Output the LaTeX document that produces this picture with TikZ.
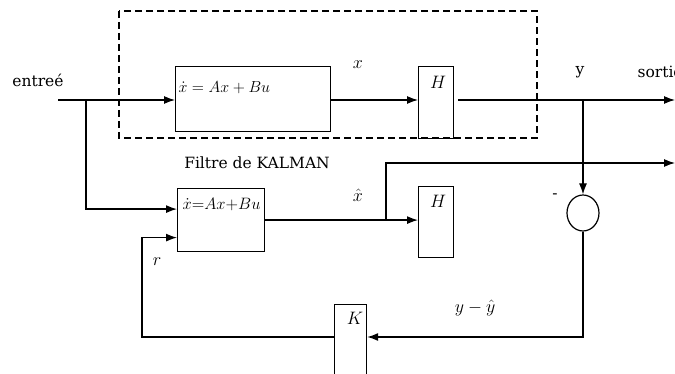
\documentclass[tikz,border=0pt]{standalone}
\usepackage{fix-cm}
\usepackage{fontspec}
\setmainfont{DejaVu Serif}
\usetikzlibrary{arrows.meta,shapes.geometric}

\begin{document}
\begin{tikzpicture}[x=1pt,y=-1pt,line width=1.2pt,
	blk/.style={draw,anchor=north west,inner sep=0pt},
	txt/.style={font=\fontsize{15.5}{18}\selectfont,inner sep=0pt},
	sym/.style={font=\fontsize{18}{20}\selectfont,inner sep=0pt},
	arr/.style={-{Latex[length=11pt,width=8pt]}}]
	\useasboundingbox (0,0) rectangle (675,374);
	\draw[dash pattern=on 7pt off 4pt] (119,11) rectangle (537,138);
	\node[blk,minimum width=155pt,minimum height=65pt] (sys) at (175,66) {};
	\node[blk,minimum width=35pt,minimum height=72pt] (h1) at (418,66) {};
	\node[blk,minimum width=87pt,minimum height=63pt] (est) at (177,188) {};
	\node[blk,minimum width=35pt,minimum height=71pt] (h2) at (418,186) {};
	\node[blk,minimum width=32pt,minimum height=80pt] (k) at (334,304) {};
	\node[draw,ellipse,minimum width=32pt,minimum height=36pt,inner sep=0pt] (sum) at (583,213) {};
	\node[txt,anchor=west,font=\fontsize{16}{18}\selectfont] (eq1) at (178,88) {$\dot{x} = Ax + Bu$};
	\node[txt,anchor=west,font=\fontsize{16.5}{18}\selectfont] (eq2) at (182,204) {$\dot{x}{=}Ax{+}Bu$};
	\node[txt] (lin) at (38,80) {entreé};
	\node[sym] (lx) at (358,65) {$x$};
	\node[sym] (lh1) at (438,82) {$H$};
	\node[txt] (ly) at (580,72) {y};
	\node[txt,anchor=west] (lout) at (637,72) {sortie};
	\node[txt] (lkal) at (257,163) {Filtre de KALMAN};
	\node[sym] (lxh) at (358,195) {$\hat{x}$};
	\node[sym] (lh2) at (438,201) {$H$};
	\node[txt] (lmin) at (555,196) {-};
	\node[sym] (lr) at (157,262) {$r$};
	\node[sym] (lerr) at (475,308) {$y-\hat{y}$};
	\node[sym] (lk) at (355,318) {$K$};
	\coordinate (in) at (58,100);
	\coordinate (b1) at (86,100);
	\coordinate (ho) at (458,100);
	\coordinate (yb) at (583,100);
	\coordinate (s1) at (675,100);
	\coordinate (xb) at (386,219.5);
	\coordinate (s2) at (675,163);
	\coordinate (kb) at (583,337);
	\coordinate (rb) at (142,337);
	\draw[arr] (in) -- (in -| sys.west);
	\draw[arr] (b1) |- ([yshift=11pt]est.west);
	\draw[arr] (sys.east |- in) -- (h1.west |- in);
	\draw[arr] (ho) -- (s1);
	\draw[arr] (yb) -- (sum.north);
	\draw[arr] (est.east) -- (est.east -| h2.west);
	\draw[arr] (xb) |- (s2);
	\draw[arr] (sum.south) -- (kb) -- (kb -| k.east);
	\draw[arr] (kb -| k.west) -- (rb) |- ([yshift=-17.5pt]est.west);
\end{tikzpicture}
\end{document}
